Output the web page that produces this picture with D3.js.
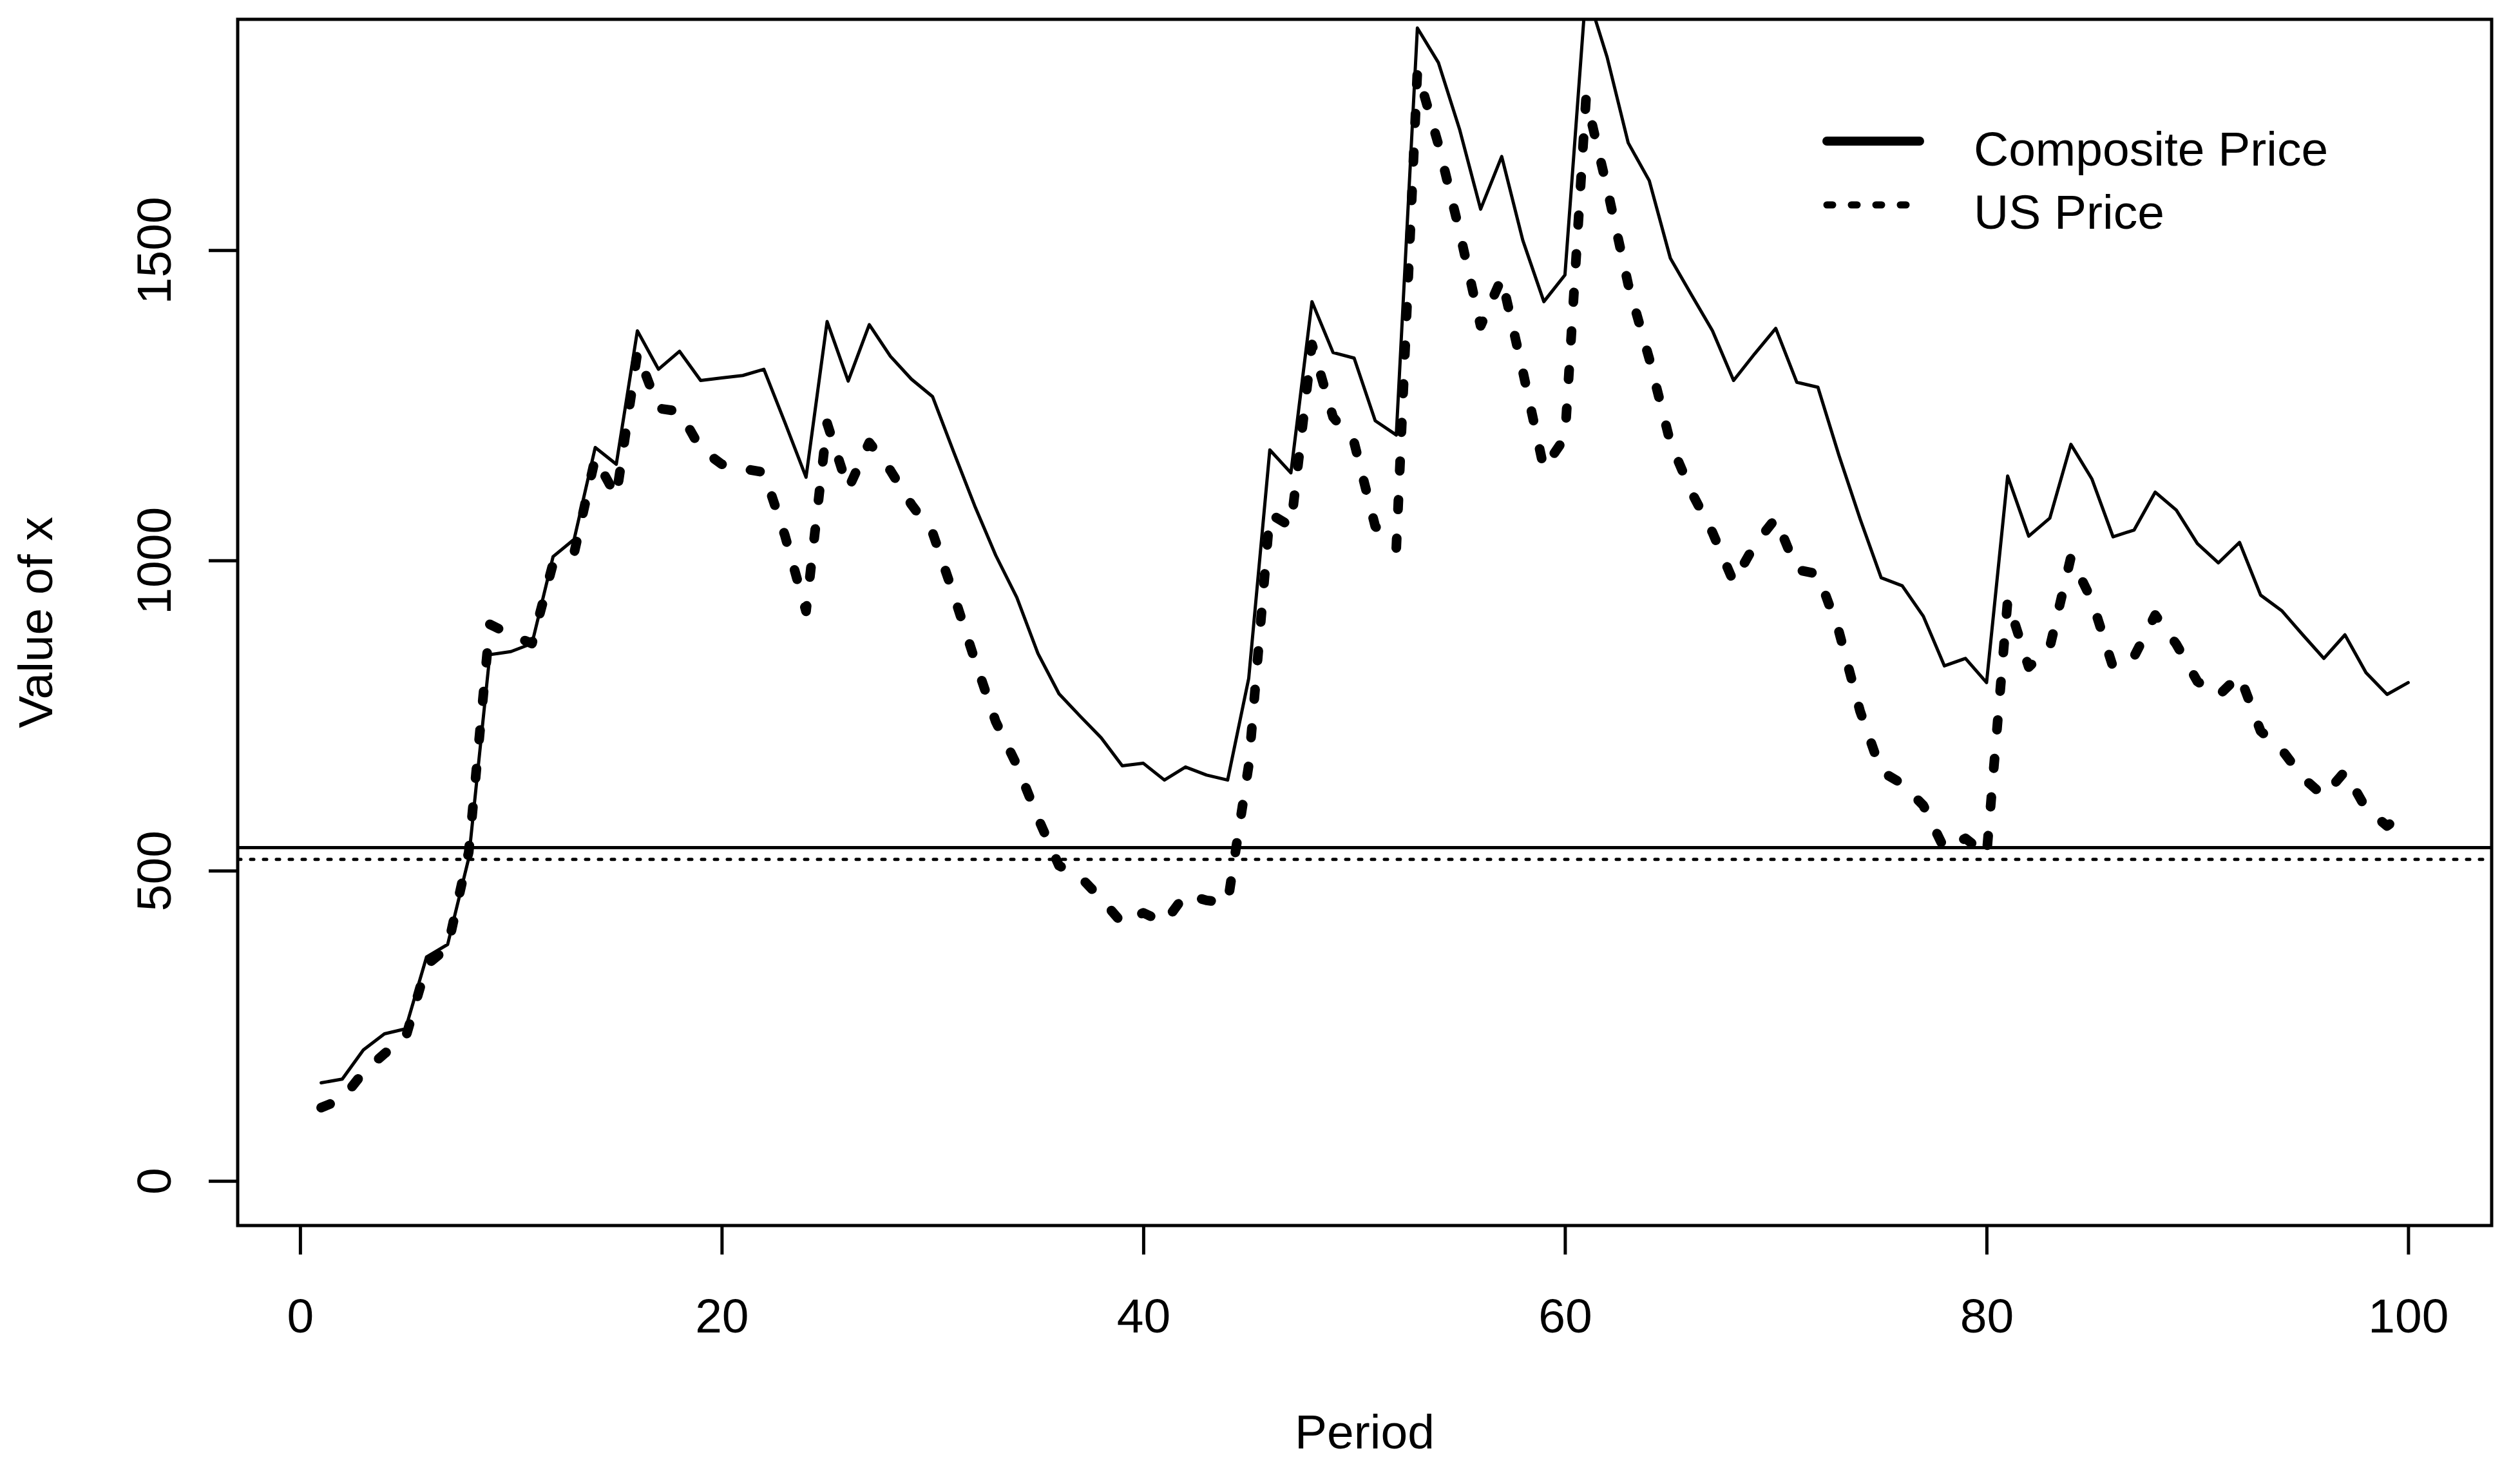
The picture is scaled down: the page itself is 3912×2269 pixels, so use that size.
<!DOCTYPE html>
<html>
<head>
<meta charset="utf-8">
<script src="https://cdn.jsdelivr.net/npm/d3@7"></script>
<style>
    body { margin: 0; background: #ffffff; }
    svg text { font-family: "Liberation Sans", Arial, Helvetica, sans-serif; fill: #000; }
</style>
</head>
<body>
<div id="chart"></div>
<script>

// x index of the series (one value per period)
const periods = d3.range(1, 101);

// values
const compositePrice = [
    158, 164, 211, 237, 245, 361, 381, 520, 848, 853,
    866, 1006, 1034, 1182, 1155, 1370, 1308, 1337, 1290, 1294,
    1298, 1308, 1222, 1134, 1385, 1289, 1380, 1329, 1292, 1264,
    1175, 1088, 1008, 940, 850, 785, 749, 714, 669, 673,
    646, 667, 654, 646, 810, 1178, 1141, 1417, 1335, 1326,
    1225, 1202, 1858, 1802, 1695, 1566, 1651, 1516, 1417, 1460,
    1920, 1811, 1673, 1612, 1487, 1428, 1370, 1290, 1333, 1374,
    1287, 1279, 1169, 1067, 972, 959, 910, 830, 842, 803,
    1136, 1039, 1068, 1187, 1131, 1038, 1049, 1110, 1081, 1027,
    996, 1029, 944, 919, 880, 842, 880, 819, 784, 803
];

const usPrice = [
    118, 132, 175, 205, 230, 348, 376, 530, 897, 880,
    866, 995, 1012, 1165, 1103, 1335, 1245, 1240, 1180, 1155,
    1148, 1142, 1040, 918, 1221, 1115, 1190, 1145, 1090, 1045,
    945, 840, 740, 670, 585, 508, 490, 455, 415, 432,
    416, 462, 452, 448, 670, 1075, 1055, 1348, 1231, 1190,
    1055, 1020, 1788, 1670, 1530, 1378, 1455, 1305, 1148, 1198,
    1745, 1600, 1445, 1325, 1190, 1110, 1045, 965, 1025, 1068,
    985, 978, 885, 757, 660, 640, 605, 535, 552, 525,
    935, 828, 860, 1005, 935, 828, 845, 912, 865, 805,
    782, 815, 725, 695, 650, 620, 660, 600, 572, 598
];

// horizontal reference lines (solid, dotted)
const refLines = [537, 518];

const xTicks = [0, 20, 40, 60, 80, 100];
const yTicks = [0, 500, 1000, 1500];
const yLimit = [0, 1800];

const legendLabels = ["Composite Price", "US Price"];


class PriceVis {

    constructor(parentElement) {
        this.parentElement = parentElement;
        this.initVis();
    }

    initVis() {
        let vis = this;

        vis.totalWidth = 3912;
        vis.totalHeight = 2269;
        vis.margin = {top: 30, right: 44, bottom: 367, left: 369};
        vis.width = vis.totalWidth - vis.margin.left - vis.margin.right;
        vis.height = vis.totalHeight - vis.margin.top - vis.margin.bottom;

        vis.root = d3.select("#" + vis.parentElement).append("svg")
            .attr("width", vis.totalWidth)
            .attr("height", vis.totalHeight);

        vis.svg = vis.root.append("g")
            .attr("transform", "translate(" + vis.margin.left + "," + vis.margin.top + ")");

        // R style axis ranges: data range padded by 4% on each side
        let xPad = 0.04 * (periods[periods.length - 1] - periods[0]);
        vis.x = d3.scaleLinear()
            .domain([periods[0] - xPad, periods[periods.length - 1] + xPad])
            .range([0, vis.width]);

        let yPad = 0.04 * (yLimit[1] - yLimit[0]);
        vis.y = d3.scaleLinear()
            .domain([yLimit[0] - yPad, yLimit[1] + yPad])
            .range([vis.height, 0]);

        vis.svg.append("clipPath")
            .attr("id", "plotClip")
            .append("rect")
            .attr("width", vis.width)
            .attr("height", vis.height);

        vis.updateVis();
    }

    updateVis() {
        let vis = this;
        const fontSize = 75;

        // axes
        let xAxis = d3.axisBottom(vis.x).tickValues(xTicks).tickSize(45).tickFormat(d3.format("d"));
        let gx = vis.svg.append("g")
            .attr("transform", "translate(0," + vis.height + ")")
            .call(xAxis);
        gx.select(".domain").remove();
        gx.selectAll(".tick line").attr("stroke", "#000").attr("stroke-width", 5);
        gx.selectAll(".tick text")
            .attr("y", 166)
            .attr("dy", null)
            .attr("font-size", fontSize)
            .attr("fill", "#000");

        let yAxis = d3.axisLeft(vis.y).tickValues(yTicks).tickSize(45).tickFormat(d3.format("d"));
        let gy = vis.svg.append("g").call(yAxis);
        gy.select(".domain").remove();
        gy.selectAll(".tick line").attr("stroke", "#000").attr("stroke-width", 5);
        gy.selectAll(".tick text")
            .attr("x", null)
            .attr("dy", null)
            .attr("text-anchor", "middle")
            .attr("transform", "translate(-104,0) rotate(-90)")
            .attr("font-size", fontSize)
            .attr("fill", "#000");

        // plot box
        vis.svg.append("rect")
            .attr("width", vis.width)
            .attr("height", vis.height)
            .attr("fill", "none")
            .attr("stroke", "#000")
            .attr("stroke-width", 5);

        // axis titles
        vis.root.append("text")
            .attr("x", vis.margin.left + vis.width / 2)
            .attr("y", 2248)
            .attr("text-anchor", "middle")
            .attr("font-size", fontSize)
            .text("Period");

        vis.root.append("text")
            .attr("transform", "translate(81," + (vis.margin.top + vis.height / 2) + ") rotate(-90)")
            .attr("text-anchor", "middle")
            .attr("font-size", fontSize)
            .text("Value of x");

        let plot = vis.svg.append("g").attr("clip-path", "url(#plotClip)");

        // reference lines
        plot.selectAll(".refLine")
            .data(refLines)
            .enter().append("line")
            .attr("class", "refLine")
            .attr("x1", 0)
            .attr("x2", vis.width)
            .attr("y1", d => vis.y(d))
            .attr("y2", d => vis.y(d))
            .attr("stroke", "#000")
            .attr("stroke-width", 5)
            .attr("stroke-linecap", "round")
            .attr("stroke-dasharray", (d, i) => i === 0 ? null : "5,15");

        let line = d3.line()
            .x((d, i) => vis.x(periods[i]))
            .y(d => vis.y(d));

        plot.append("path")
            .datum(usPrice)
            .attr("d", line)
            .attr("fill", "none")
            .attr("stroke", "#000")
            .attr("stroke-width", 15)
            .attr("stroke-linecap", "round")
            .attr("stroke-linejoin", "round")
            .attr("stroke-dasharray", "15,45");

        plot.append("path")
            .datum(compositePrice)
            .attr("d", line)
            .attr("fill", "none")
            .attr("stroke", "#000")
            .attr("stroke-width", 5)
            .attr("stroke-linejoin", "round")
            .attr("stroke-linecap", "round");

        // legend (no frame)
        let legend = vis.root.append("g");
        let legendRows = legendLabels.map((label, i) => ({label: label, i: i}));

        legend.selectAll(".legendLine")
            .data(legendRows)
            .enter().append("line")
            .attr("class", "legendLine")
            .attr("x1", 2836)
            .attr("x2", 2980)
            .attr("y1", d => 219 + d.i * 99)
            .attr("y2", d => 219 + d.i * 99)
            .attr("stroke", "#000")
            .attr("stroke-linecap", "round")
            .attr("stroke-width", d => d.i === 0 ? 14 : 11)
            .attr("stroke-dasharray", d => d.i === 0 ? null : "9,29");

        legend.selectAll(".legendText")
            .data(legendRows)
            .enter().append("text")
            .attr("class", "legendText")
            .attr("x", 3064)
            .attr("y", d => 257 + d.i * 98)
            .attr("font-size", fontSize)
            .text(d => d.label);
    }
}

new PriceVis("chart");

</script>
</body>
</html>
